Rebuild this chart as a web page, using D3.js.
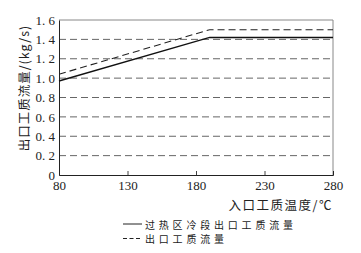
<!DOCTYPE html>
<html>
<head>
<meta charset="utf-8">
<script src="https://cdn.jsdelivr.net/npm/d3@7"></script>
<style>
  body { margin: 0; background: #fff; }
  text { fill: #222; }
</style>
</head>
<body>
<script>
  // data
  const temps = [80, 190, 280];
  const coldFlow = [0.97, 1.42, 1.42];   // 过热区冷段出口工质流量 (solid)
  const outFlow = [1.04, 1.5, 1.5];      // 出口工质流量 (dashed)
  const xTicks = [80, 130, 180, 230, 280];
  const yTicks = [0, 0.2, 0.4, 0.6, 0.8, 1.0, 1.2, 1.4, 1.6];
  const gridVals = [0.2, 0.4, 0.6, 0.8, 1.0, 1.2, 1.4];
  const legendNames = ['过热区冷段出口工质流量', '出口工质流量'];

  const W = 361, H = 253;
  const margin = { top: 20, right: 28, bottom: 78, left: 59 },
        width = W - margin.left - margin.right,
        height = H - margin.top - margin.bottom;

  const numFont = '"Liberation Serif", "DejaVu Serif", serif';
  const cjkFont = '"Noto Sans CJK SC", sans-serif';

  const svg = d3.select('body').append('svg')
      .attr('width', W)
      .attr('height', H);

  const g = svg.append('g')
      .attr('transform', `translate(${margin.left}, ${margin.top})`);

  const x = d3.scaleLinear().domain([80, 280]).range([0, width]);
  const y = d3.scaleLinear().domain([0, 1.6]).range([height, 0]);

  // grid
  g.selectAll('.grid')
    .data(gridVals)
    .enter().append('line')
      .attr('class', 'grid')
      .attr('x1', 0).attr('x2', width)
      .attr('y1', d => y(d)).attr('y2', d => y(d))
      .style('stroke', '#666')
      .style('stroke-width', 1)
      .style('stroke-dasharray', '7,4');

  // frame (top/right)
  g.append('path')
    .attr('d', `M0,0H${width}V${height}`)
    .style('fill', 'none')
    .style('stroke', '#888')
    .style('stroke-width', 1);

  // axes
  const xAxis = d3.axisBottom(x).tickValues(xTicks).tickSize(-4).tickPadding(6);
  const yAxis = d3.axisLeft(y).tickValues(yTicks).tickSize(0).tickPadding(4)
      .tickFormat(d => d === 0 ? '0' : d3.format('.1f')(d).replace('.', '. '));

  const gx = g.append('g')
    .attr('transform', `translate(0, ${height})`)
    .call(xAxis);
  gx.select('.domain').style('stroke', '#222');
  gx.selectAll('.tick line').style('stroke', '#444');
  gx.selectAll('.tick')
    .filter(d => d === 80 || d === 280)
    .select('line').remove();
  gx.selectAll('text')
    .style('font-family', numFont)
    .style('font-size', '13px')
    .style('fill', '#222');

  const gy = g.append('g').call(yAxis);
  gy.select('.domain').style('stroke', '#222');
  gy.selectAll('text')
    .style('font-family', numFont)
    .style('font-size', '13px')
    .style('fill', '#222');

  // series
  const line = d3.line()
    .x((d, i) => x(temps[i]))
    .y(d => y(d));

  g.append('path')
    .datum(coldFlow)
    .attr('d', line)
    .style('fill', 'none')
    .style('stroke', '#111')
    .style('stroke-width', 1.4);

  g.append('path')
    .datum(outFlow)
    .attr('d', line)
    .style('fill', 'none')
    .style('stroke', '#222')
    .style('stroke-width', 1.1)
    .style('stroke-dasharray', '7,4');

  // axis titles
  svg.append('text')
    .attr('transform', `translate(23, ${margin.top + 68}) rotate(-90)`)
    .attr('text-anchor', 'middle')
    .attr('dominant-baseline', 'central')
    .style('font-family', cjkFont)
    .style('font-size', '12.5px')
    .style('letter-spacing', '1px')
    .text('出口工质流量/(kg/s)');

  svg.append('text')
    .attr('x', margin.left + width)
    .attr('y', 210)
    .attr('text-anchor', 'end')
    .style('font-family', cjkFont)
    .style('font-size', '12.5px')
    .style('letter-spacing', '1.5px')
    .text('入口工质温度/℃');

  // legend
  const legend = svg.append('g').attr('transform', 'translate(123, 224)');
  legendNames.forEach((name, i) => {
    const row = legend.append('g').attr('transform', `translate(0, ${i * 14.5})`);
    row.append('line')
      .attr('x1', 0).attr('x2', 19)
      .attr('y1', 0).attr('y2', 0)
      .style('stroke', '#222')
      .style('stroke-width', 1)
      .style('stroke-dasharray', i === 0 ? null : '4,2.5');
    row.append('text')
      .attr('x', 22)
      .attr('y', 0)
      .attr('dominant-baseline', 'central')
      .style('font-family', cjkFont)
      .style('font-size', '10px')
      .style('letter-spacing', '3.8px')
      .text(name);
  });
</script>
</body>
</html>
